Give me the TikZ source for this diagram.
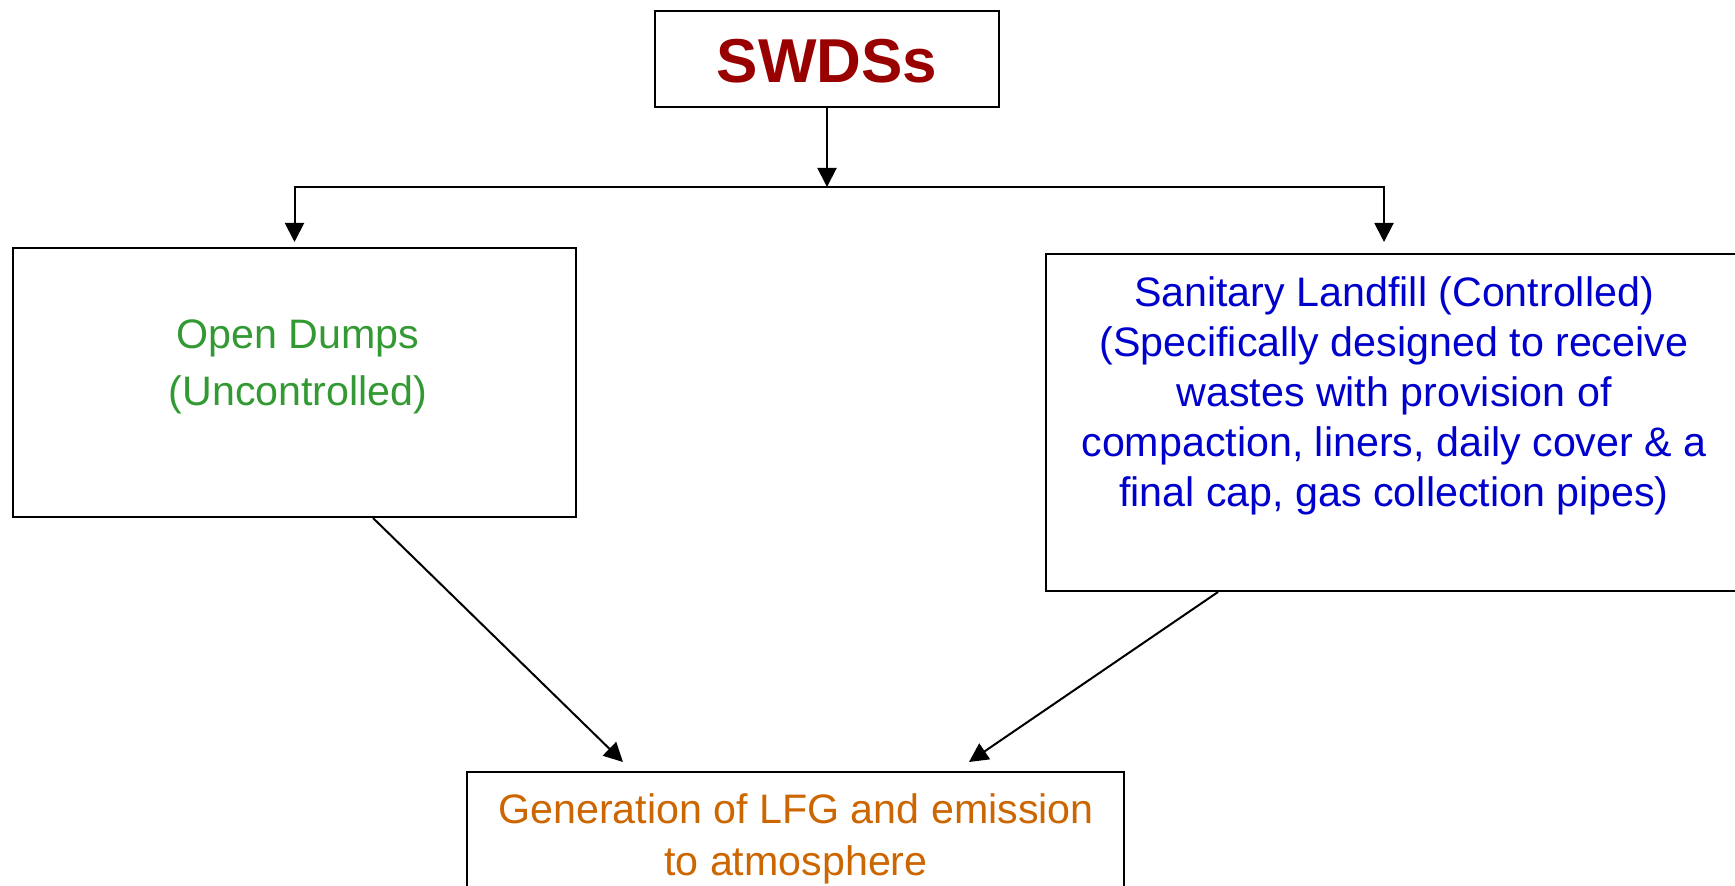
\documentclass[tikz,border=0pt]{standalone}
\usepackage{fontspec}
\setmainfont{Liberation Sans}
\usetikzlibrary{arrows.meta}
\definecolor{swdsred}{HTML}{990000}
\definecolor{dumpgreen}{HTML}{339933}
\definecolor{fillblue}{HTML}{0000CC}
\definecolor{lfgorange}{HTML}{CC6600}
\begin{document}
\begin{tikzpicture}[x=0.5pt,y=-0.5pt,
    box/.style={draw,line width=1pt,inner sep=0pt},
    txt/.style={align=center,inner sep=0pt,font=\fontsize{20.6}{25}\selectfont},
    arr/.style={line width=1pt,-{Triangle[length=9.5pt,width=9.5pt]}}]
    \useasboundingbox (0,0) rectangle (1735,886);
    \node[box,minimum width=172pt,minimum height=48pt] (swds) at (827,59) {};
    \node[font=\fontsize{31}{36}\selectfont\bfseries,text=swdsred,inner sep=0pt] (swdstext) at (827,61) {SWDSs};
    \node[box,minimum width=281.5pt,minimum height=134.5pt] (dumps) at (294.5,382.5) {};
    \node[txt,text=dumpgreen,font=\fontsize{20.6}{28.75}\selectfont] (dumpstext) at (298,367) {Open Dumps\\(Uncontrolled)};
    \node[box,minimum width=348pt,minimum height=168.5pt] (landfill) at (1394,422.5) {};
    \node[txt,text=fillblue] (landfilltext) at (1394,396) {Sanitary Landfill (Controlled)\\(Specifically designed to receive\\wastes with provision of\\compaction, liners, daily cover \& a\\final cap, gas collection pipes)};
    \node[box,minimum width=328.5pt,minimum height=64pt] (lfg) at (795.5,836) {};
    \node[txt,text=lfgorange,font=\fontsize{20.6}{26}\selectfont] (lfgtext) at (796,839) {Generation of LFG and emission\\to atmosphere};
    \coordinate (split) at (827,187);
    \draw[arr] (swds.south) -- (split);
    \draw[arr] (split) -| ([yshift=2.5pt]dumps.north);
    \draw[arr] (split) -| ([xshift=-5pt,yshift=5.5pt]landfill.north);
    \draw[arr] ([xshift=39.25pt]dumps.south) -- ([xshift=-86.25pt,yshift=4.5pt]lfg.north);
    \draw[arr] ([xshift=-88pt]landfill.south) -- ([xshift=86.75pt,yshift=4.5pt]lfg.north);
\end{tikzpicture}
\end{document}
